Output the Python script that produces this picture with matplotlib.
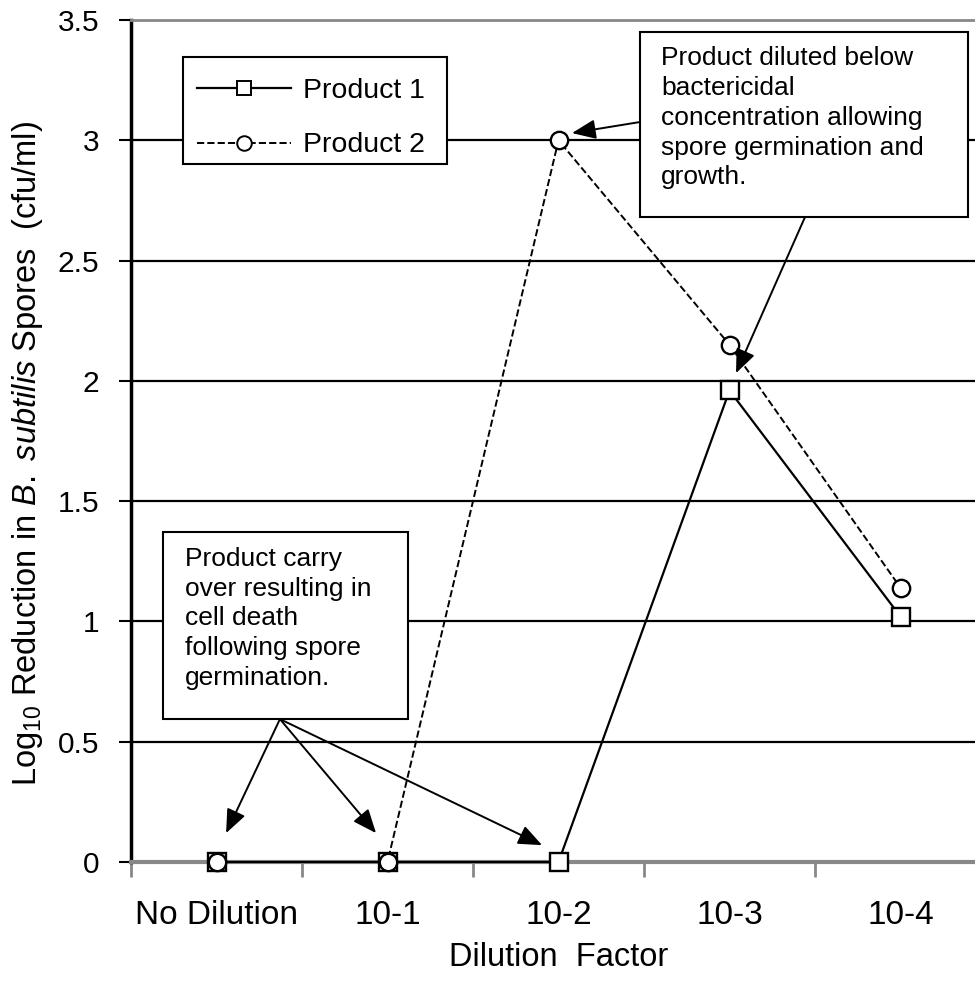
import matplotlib
matplotlib.use("Agg")
import matplotlib.pyplot as plt
from matplotlib.patches import Rectangle

plt.rcParams["font.family"] = ["Liberation Sans", "DejaVu Sans"]
plt.rcParams["mathtext.fontset"] = "custom"
plt.rcParams["mathtext.rm"] = "Liberation Sans"
plt.rcParams["mathtext.it"] = "Liberation Sans:italic"

# Data
categories = ["No Dilution", "10-1", "10-2", "10-3", "10-4"]
product1 = [0.0, 0.0, 0.0, 1.96, 1.02]
product2 = [0.0, 0.0, 3.0, 2.15, 1.14]
yticks = [0, 0.5, 1, 1.5, 2, 2.5, 3, 3.5]
ytick_labels = ["0", "0.5", "1", "1.5", "2", "2.5", "3", "3.5"]

note_growth = ("Product diluted below\nbactericidal\n"
               "concentration allowing\nspore germination and\ngrowth.")
note_carry = ("Product carry\nover resulting in\ncell death\n"
              "following spore\ngermination.")

fig = plt.figure(figsize=(9.75, 9.81), dpi=100)
ax = fig.add_axes([131 / 975, 119 / 981, 855 / 975, 842 / 981])

x = list(range(len(categories)))

# horizontal gridlines
for g in yticks[1:-1]:
    ax.axhline(g, color="black", lw=1.6, zorder=1)

ax.plot(x, product1, ls="-", color="black", lw=1.6, marker="s", ms=13,
        mfc="white", mec="black", mew=1.7, label="Product 1", zorder=3,
        clip_on=False)
ax.plot(x, product2, ls="--", color="black", lw=1.4, marker="o", ms=12.5,
        mfc="white", mec="black", mew=1.7, label="Product 2", zorder=4,
        clip_on=False)

ax.set_xlim(-0.5, 4.5)
ax.set_ylim(0, 3.5)
ax.set_yticks(yticks)
ax.set_yticklabels(ytick_labels, fontsize=21.5)
ax.set_xticks(x)
ax.set_xticklabels(categories, fontsize=24)
ax.set_xticks([v - 0.5 for v in range(6)], minor=True)
ax.tick_params(axis="x", which="major", length=0, pad=27)
ax.tick_params(axis="x", which="minor", length=11, width=2, color="#888888",
               direction="out")
ax.tick_params(axis="y", length=9, width=1.5, direction="out", pad=14)

ax.spines["right"].set_visible(False)
ax.spines["left"].set_linewidth(2.5)
ax.spines["bottom"].set_color("#888888")
ax.spines["bottom"].set_linewidth(3)
ax.spines["top"].set_color("#888888")
ax.spines["top"].set_linewidth(2)
for sp in ax.spines.values():
    sp.set_zorder(2)

ax.set_xlabel("Dilution  Factor", fontsize=23.5, labelpad=8)
ax.set_ylabel(r"Log$_{10}$ Reduction in $\mathit{B.\ subtilis}$ Spores  (cfu/ml)",
              fontsize=23.5)
ax.yaxis.set_label_coords(-0.100, 0.485)

# legend: frame drawn separately so the rows can sit as in the original
ax.add_patch(Rectangle((0.0608, 0.829), 0.3088, 0.127, transform=ax.transAxes,
                       facecolor="white", edgecolor="black", lw=1.5, zorder=5))
leg = ax.legend(loc="upper left", bbox_to_anchor=(0.061, 0.948),
                fontsize=20.5, frameon=False, handlelength=3.3,
                handletextpad=0.42, borderpad=0.5, labelspacing=1.0,
                borderaxespad=0)
leg.set_zorder(6)
for h in leg.legend_handles:
    h.set_markersize(10.5)
    h.set_markeredgewidth(1.4)

# annotation boxes
ax.add_patch(Rectangle((2.477, 2.68), 1.918, 0.77, facecolor="white",
                       edgecolor="black", lw=1.5, zorder=5))
ax.text(2.60, 3.39, note_growth, fontsize=19, va="top", ha="left",
        linespacing=1.3, zorder=6)
ax.add_patch(Rectangle((-0.313, 0.594), 1.433, 0.778, facecolor="white",
                       edgecolor="black", lw=1.5, zorder=5))
ax.text(-0.185, 1.31, note_carry, fontsize=19, va="top", ha="left",
        linespacing=1.3, zorder=6)

arrow = dict(arrowstyle="-|>,head_length=1.45,head_width=0.6", color="black",
             lw=1.4, shrinkA=0, shrinkB=0)
ax.annotate("", xy=(2.079, 3.03), xytext=(2.477, 3.076), arrowprops=arrow,
            zorder=6)
ax.annotate("", xy=(3.038, 2.032), xytext=(3.441, 2.68), arrowprops=arrow,
            zorder=6)
for tip in [(0.056, 0.12), (0.933, 0.12), (1.904, 0.07)]:
    ax.annotate("", xy=tip, xytext=(0.371, 0.594), arrowprops=arrow, zorder=6)

fig.savefig("out.png", dpi=100)
